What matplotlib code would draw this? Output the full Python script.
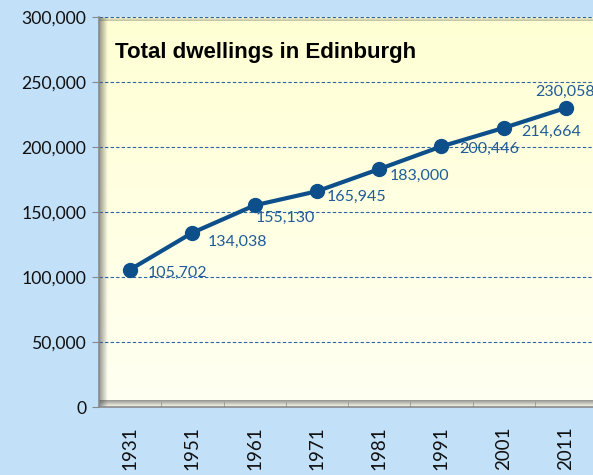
import numpy as np
import matplotlib
matplotlib.use("Agg")
from matplotlib import pyplot as plt
from matplotlib.ticker import FuncFormatter

# data
years = ["1931", "1951", "1961", "1971", "1981", "1991", "2001", "2011"]
dwellings = [105702, 134038, 155130, 165945, 183000, 200446, 214664, 230058]

# label offsets (pixels) - styling only
label_dx = [18, 15, 1, 10, 11, 18, 18, -31]
label_dy = [-3, -9, -13, -6, -7, -2, -4, 16]

line_col = "#0D4F8B"
label_col = "#1F5C99"

fig = plt.figure(figsize=(5.93, 4.75), dpi=100)
fig.patch.set_facecolor("#C3E0F9")
ax = fig.add_axes([99 / 593, 1 - 407 / 475, 498 / 593, 390 / 475])
ax.set_facecolor("none")

# plot area gradient, yellowish at top to almost white at bottom
grad = np.linspace(0, 1, 256).reshape(-1, 1)
top = np.array([1.0, 1.0, 0.83])
bot = np.array([1.0, 1.0, 0.95])
img = top * (1 - grad[..., None]) + bot * grad[..., None]
img = np.repeat(img, 2, axis=1)
ax.imshow(img, extent=[0, 1, 0, 1], transform=ax.transAxes, aspect="auto", zorder=0)

# soft shadow on left, top and bottom edges of the plot area
sh = np.linspace(0.6, 0, 64)
left_sh = np.zeros((2, 64, 4))
left_sh[..., :3] = 0.3
left_sh[..., 3] = sh
ax.imshow(left_sh, extent=[0, 9 / 498, 0, 1], transform=ax.transAxes, aspect="auto", zorder=0.5)
bot_sh = np.zeros((64, 2, 4))
bot_sh[..., :3] = 0.3
bot_sh[..., 3] = sh[:, None]
ax.imshow(bot_sh, extent=[0, 1, 0, 7 / 390], transform=ax.transAxes, aspect="auto", zorder=0.5)
top_sh = np.zeros((64, 2, 4))
top_sh[..., :3] = 0.3
top_sh[..., 3] = sh[::-1, None] * 0.6
ax.imshow(top_sh, extent=[0, 1, 1 - 4 / 390, 1], transform=ax.transAxes, aspect="auto", zorder=0.5)

x = np.arange(len(years))
ax.set_xlim(-0.5, len(years) - 0.5)
ax.set_ylim(0, 300000)

ax.yaxis.grid(True, color="#2B63A3", linestyle=(0, (3, 2)), linewidth=0.8)
ax.set_axisbelow(True)

ax.plot(x, dwellings, color=line_col, linewidth=3, marker="o", markersize=10,
        zorder=3, clip_on=False)

for xi, v, dx, dy in zip(x, dwellings, label_dx, label_dy):
    ax.annotate(f"{v:,}", (xi, v), xytext=(dx, dy), textcoords="offset pixels",
                ha="left", va="center", color=label_col, fontsize=11.5,
                family="Lato", annotation_clip=False, zorder=4)

ax.text(16 / 498, (407 - 58) / 390, "Total dwellings in Edinburgh", transform=ax.transAxes,
        fontsize=16, fontweight="bold", family="Liberation Sans", va="baseline", ha="left")

ax.set_yticks(range(0, 300001, 50000))
ax.yaxis.set_major_formatter(FuncFormatter(lambda v, p: f"{int(v):,}"))
ax.set_xticks(x)
ax.set_xticklabels(years, rotation=90)
ax.set_xticks(np.arange(0.5, len(years) - 1, 1), minor=True)
ax.tick_params(axis="x", which="major", length=0, pad=14, labelsize=13.5)
ax.tick_params(axis="x", which="minor", direction="in", length=4, color="#999999")
ax.tick_params(axis="y", length=5, color="#888888", labelsize=12.7, pad=4)
for lab in ax.get_xticklabels() + ax.get_yticklabels():
    lab.set_family("Lato")
    lab.set_color("#111111")

for s in ["right", "top"]:
    ax.spines[s].set_visible(False)
ax.spines["left"].set_color("#8A8A8A")
ax.spines["bottom"].set_color("#8A8A8A")
ax.spines["left"].set_linewidth(1.2)
ax.spines["bottom"].set_linewidth(1.2)

fig.savefig("out.png", dpi=100, facecolor=fig.get_facecolor())
